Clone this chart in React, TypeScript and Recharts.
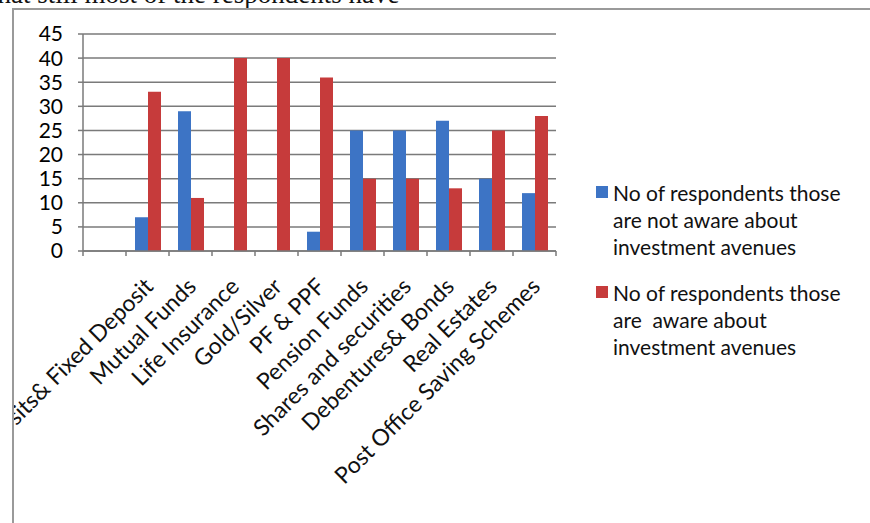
import React from "react";
import { Bar, BarChart, CartesianGrid, Legend, XAxis, YAxis } from "recharts";

const categories = [
  "",
  "Bank Deposits& Fixed Deposit",
  "Mutual Funds",
  "Life Insurance",
  "Gold/Silver",
  "PF & PPF",
  "Pension Funds",
  "Shares and securities",
  "Debentures& Bonds",
  "Real Estates",
  "Post Office Saving Schemes",
];
const notAware = [null, 7, 29, 0, 0, 4, 25, 25, 27, 15, 12];
const aware = [null, 33, 11, 40, 40, 36, 15, 15, 13, 25, 28];
const yTicks = [0, 5, 10, 15, 20, 25, 30, 35, 40, 45];

const NOT_AWARE = "No of respondents those are not aware about investment avenues";
const AWARE = "No of respondents those are  aware about investment avenues";
const seriesOrder = [NOT_AWARE, AWARE];

const data = categories.map((name, i) => ({ name, [NOT_AWARE]: notAware[i], [AWARE]: aware[i] }));

const FONT = "Lato, 'Open Sans', sans-serif";
const GRID = "#7a7a7a";
const W = 856;
const H = 513;
const M = { top: 24, right: 314, left: 9, bottom: 72 };
const PLOT_W = W - M.left - 60 - M.right;
const BAND = PLOT_W / categories.length;

function XTick(props: any) {
  const { x, y, payload, index } = props;
  const last = index === categories.length - 1;
  return (
    <g>
      <line x1={x - BAND / 2} x2={x - BAND / 2} y1={y} y2={y + 5} stroke={GRID} strokeWidth={1.5} />
      {last && <line x1={x + BAND / 2} x2={x + BAND / 2} y1={y} y2={y + 5} stroke={GRID} strokeWidth={1.5} />}
      <text
        transform={`translate(${x + 7},${y + 37}) rotate(-45)`}
        textAnchor="end"
        fontFamily={FONT}
        fontSize={23}
        fill="#111"
      >
        {payload.value}
      </text>
    </g>
  );
}

function LegendBox(props: any) {
  const items = [...(props.payload ?? [])].sort(
    (a: any, b: any) => seriesOrder.indexOf(a.value) - seriesOrder.indexOf(b.value)
  );
  return (
    <div style={{ fontFamily: FONT, fontSize: 21, lineHeight: "27px", color: "#111" }}>
      {items.map((item: any) => (
        <div key={item.value} style={{ display: "flex", alignItems: "flex-start", marginBottom: 19 }}>
          <span style={{ width: 12, height: 12, background: item.color, marginTop: 7, marginRight: 5, flex: "none" }} />
          <span style={{ width: 245, whiteSpace: "pre-wrap", textAlign: "left" }}>{item.value}</span>
        </div>
      ))}
    </div>
  );
}

export default function App() {
  return (
    <div style={{ position: "fixed", left: 0, top: 0, width: 870, height: 523, overflow: "hidden", background: "#fff" }}>
      <div
        style={{
          position: "absolute",
          left: -10,
          top: -19,
          fontFamily: "'Liberation Serif', 'DejaVu Serif', serif",
          fontSize: 27,
          lineHeight: "27px",
          color: "#111",
          whiteSpace: "nowrap",
        }}
      >
        that still most of the respondents have
      </div>
      <div
        style={{
          position: "absolute",
          left: 12,
          top: 8,
          width: 900,
          height: 560,
          borderLeft: "2px solid #9a9a9a",
          borderTop: "2px solid #9a9a9a",
        }}
      />
      <div style={{ position: "absolute", left: 14, top: 10 }}>
        <BarChart width={W} height={H} data={data} margin={M} barGap={0} barSize={13}>
          <CartesianGrid vertical={false} stroke={GRID} strokeWidth={1.5} />
          <XAxis
            dataKey="name"
            interval={0}
            tickLine={false}
            tickSize={0}
            tickMargin={0}
            axisLine={{ stroke: GRID, strokeWidth: 1.5 }}
            tick={<XTick />}
            height={200}
          />
          <YAxis
            domain={[0, 45]}
            ticks={yTicks}
            interval={0}
            width={60}
            tickSize={5}
            tickMargin={15}
            axisLine={{ stroke: GRID, strokeWidth: 1.5 }}
            tickLine={{ stroke: GRID, strokeWidth: 1.5 }}
            tick={{ fontFamily: FONT, fontSize: 21, fill: "#000" }}
          />
          <Legend
            layout="vertical"
            align="center"
            verticalAlign="middle"
            content={<LegendBox />}
            wrapperStyle={{ left: 582, top: 169, width: 270 }}
          />
          <Bar dataKey={NOT_AWARE} fill="#3d74c5" isAnimationActive={false} />
          <Bar dataKey={AWARE} fill="#c63b3b" isAnimationActive={false} />
        </BarChart>
      </div>
    </div>
  );
}
